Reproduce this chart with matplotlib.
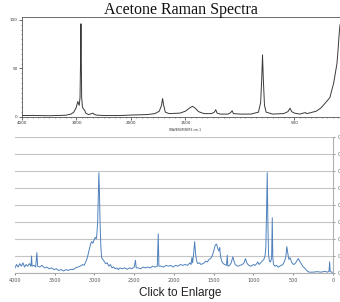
import numpy as np
import matplotlib
matplotlib.use("Agg")
import matplotlib.pyplot as plt
from matplotlib.ticker import FixedLocator, NullFormatter

# --- top spectrum (instrument print-out) ---
top_wn = [4000, 3800, 3500, 3200, 3100, 3050, 3010, 2990, 2975, 2965, 2950, 2935,
          2925, 2918, 2912, 2905, 2890, 2870, 2850, 2830, 2780, 2720, 2700, 2680,
          2640, 2500, 2200, 2000, 1850, 1780, 1740, 1720, 1710, 1700, 1685, 1650,
          1550, 1500, 1460, 1435, 1410, 1380, 1330, 1260, 1235, 1222, 1210, 1180,
          1110, 1085, 1072, 1060, 1000, 900, 830, 810, 800, 793, 786, 775, 760,
          700, 600, 560, 540, 525, 500, 450, 420, 400, 385, 350, 300, 260, 220,
          175, 140, 110, 100, 90, 82]
top_int = [1.5, 1.6, 1.3, 1.8, 3, 5, 9, 13, 16, 14, 12, 20,
           60, 96, 60, 20, 10, 8, 7, 4, 2.5, 3.5, 4, 3,
           2, 1.5, 1.5, 2, 2.5, 3.5, 6, 12, 19, 12, 5, 3.5,
           4, 6, 9.5, 11, 9, 5.5, 3.5, 3.5, 5, 7.5, 4, 3,
           3, 4.5, 6.5, 3.5, 3, 3, 5, 15, 40, 64, 40, 12, 5,
           3, 3.5, 5.5, 9, 5.5, 4, 3, 4, 4.5, 3.5, 4.5, 6, 9, 14,
           20, 35, 55, 69, 85, 95]
top_yticks = [0, 50, 100]
top_xticks = [4000, 3000, 2000, 1500, 500]

# --- bottom spectrum (spreadsheet plot) ---
bot_wn = [4000, 3980, 3960, 3940, 3920, 3900, 3880, 3860, 3840, 3820, 3800, 3792,
          3785, 3760, 3740, 3725, 3715, 3690, 3660, 3630, 3600, 3570, 3540, 3510,
          3480, 3450, 3420, 3390, 3360, 3330, 3300, 3270, 3240, 3210, 3180, 3150,
          3130, 3110, 3090, 3070, 3050, 3035, 3020, 3005, 2990, 2978, 2970, 2960,
          2952, 2945, 2938, 2930, 2920, 2910, 2895, 2880, 2860, 2840, 2820, 2800,
          2780, 2760, 2740, 2720, 2700, 2680, 2650, 2620, 2590, 2560, 2530, 2500,
          2485, 2475, 2450, 2420, 2390, 2360, 2330, 2300, 2270, 2240, 2210, 2198,
          2190, 2160, 2130, 2100, 2070, 2040, 2010, 1980, 1950, 1920, 1890, 1860,
          1830, 1800, 1785, 1775, 1765, 1752, 1740, 1730, 1715, 1700, 1680, 1660,
          1640, 1620, 1600, 1580, 1560, 1540, 1520, 1500, 1480, 1465, 1450, 1435,
          1425, 1415, 1400, 1380, 1360, 1340, 1330, 1322, 1300, 1280, 1260, 1245,
          1230, 1200, 1170, 1140, 1120, 1100, 1085, 1060, 1030, 1000, 980, 960,
          945, 930, 910, 890, 870, 855, 845, 836, 827, 819, 811, 800, 785, 772,
          764, 757, 748, 730, 710, 690, 670, 650, 630, 610, 595, 580, 570, 555,
          540, 525, 510, 490, 470, 450, 435, 420, 400, 380, 360, 340, 320, 300,
          250, 200, 150, 100, 70, 50, 42, 36, 20, 0]
bot_int = [0.3, 0.5, 0.35, 0.55, 0.4, 0.6, 0.35, 0.5, 0.4, 0.55, 0.4, 1.0,
           0.4, 0.45, 0.35, 1.2, 0.4, 0.35, 0.45, 0.3, 0.35, 0.25, 0.3, 0.2,
           0.25, 0.15, 0.2, 0.12, 0.2, 0.15, 0.22, 0.2, 0.3, 0.35, 0.4, 0.5,
           0.45, 0.65, 0.9, 1.3, 1.7, 1.85, 1.75, 1.95, 2.1, 2.0, 2.3, 3.0,
           4.5, 5.9, 4.8, 3.0, 1.5, 0.9, 0.8, 0.7, 0.55, 0.6, 0.4, 0.5,
           0.3, 0.35, 0.25, 0.3, 0.2, 0.3, 0.25, 0.3, 0.22, 0.3, 0.25, 0.35,
           0.75, 0.3, 0.3, 0.25, 0.35, 0.3, 0.35, 0.3, 0.4, 0.35, 0.4, 2.3,
           0.4, 0.4, 0.35, 0.45, 0.4, 0.45, 0.35, 0.45, 0.4, 0.5, 0.45, 0.5,
           0.45, 0.6, 0.5, 0.9, 0.6, 1.2, 1.85, 1.2, 0.7, 0.55, 0.6, 0.5,
           0.55, 0.6, 0.7, 0.65, 0.8, 0.85, 1.0, 1.3, 1.65, 1.7, 1.45, 1.3,
           1.5, 1.0, 0.7, 0.55, 0.5, 0.45, 1.05, 0.4, 0.45, 0.6, 0.95, 0.7,
           0.5, 0.4, 0.45, 0.5, 0.6, 0.85, 0.6, 0.45, 0.4, 0.5, 0.45, 0.55,
           0.65, 0.5, 0.6, 0.7, 0.8, 1.0, 1.5, 3.5, 5.9, 3.0, 1.1, 0.7, 0.65, 0.9,
           3.25, 0.9, 0.5, 0.4, 0.45, 0.35, 0.4, 0.45, 0.5, 0.7, 0.9, 1.55, 1.2, 0.8,
           0.9, 0.7, 0.55, 0.5, 0.6, 0.75, 0.85, 0.7, 0.55, 0.4, 0.3, 0.2, 0.1, 0.05,
           0.05, 0.08, 0.05, 0.1, 0.05, 0.1, 0.66, 0.1, 0.05, 0.05]
bot_xticks = [4000, 3500, 3000, 2500, 2000, 1500, 1000, 500, 0]
bot_grid = [0, 1, 2, 3, 4, 5, 6, 7, 8]
# right-hand labels are cut by the image edge, only the first digit shows
bot_ylabels = ["0"] * len(bot_grid)


# x axis of the print-out is expanded 2x below 2000 cm-1
def fwd(w):
    w = np.asarray(w, dtype=float)
    return np.where(w >= 2000, w, 2 * w - 2000)


def inv(u):
    u = np.asarray(u, dtype=float)
    return np.where(u >= 2000, u, (u + 2000) / 2)


fig = plt.figure(figsize=(3.4, 3.02), dpi=100)

fig.text(0.532, 0.967, "Acetone Raman Spectra", ha="center", va="center",
         family="Liberation Serif", fontsize=11.5, color="#111111")

# === top panel ===
ax1 = fig.add_axes([0.0647, 0.6126, 0.9353, 0.3311])
ax1.set_xscale("function", functions=(fwd, inv))
ax1.plot(top_wn, top_int, color="#3a3a3a", lw=0.7)
ax1.set_xlim(4000, 82)
ax1.set_ylim(0, 103)
ax1.set_xticks(top_xticks)
ax1.set_xticklabels([str(t) for t in top_xticks])
ax1.xaxis.set_minor_locator(FixedLocator(list(range(4000, 2000, -100)) + list(range(2000, 80, -50))))
ax1.set_yticks(top_yticks)
ax1.yaxis.set_minor_locator(FixedLocator(list(range(0, 104, 5))))
ax1.xaxis.set_minor_formatter(NullFormatter())
ax1.tick_params(axis="both", which="major", labelsize=3, length=2, width=0.5, pad=1, colors="#333333")
ax1.tick_params(axis="both", which="minor", length=1, width=0.4, colors="#555555")
for s in ["left", "bottom", "top"]:
    ax1.spines[s].set_linewidth(0.6)
    ax1.spines[s].set_color("#555555")
ax1.spines["right"].set_visible(False)
ax1.text(1500, -11, "WAVENUMBERS cm-1", ha="center", va="top", fontsize=2.2, color="#333333",
         clip_on=False)

# === bottom panel ===
ax2 = fig.add_axes([0.0441, 0.096, 0.9353, 0.4503])
ax2.plot(bot_wn, bot_int, color="#4F81BD", lw=0.7)
ax2.set_xlim(4000, 0)
ax2.set_ylim(0, 8)
ax2.set_xticks(bot_xticks)
ax2.set_xticklabels([str(t) for t in bot_xticks])
ax2.set_yticks(bot_grid)
ax2.set_yticklabels(bot_ylabels)
ax2.yaxis.tick_right()
ax2.grid(axis="y", color="#c4c4c4", lw=0.8)
ax2.set_axisbelow(True)
ax2.tick_params(axis="x", labelsize=3.5, length=1.5, width=0.5, pad=2, colors="#555555")
ax2.tick_params(axis="y", labelsize=3.5, length=1.5, width=0.5, pad=1.5, colors="#666666")
for s in ["left", "top"]:
    ax2.spines[s].set_visible(False)
ax2.spines["bottom"].set_color("#b0b0b0")
ax2.spines["right"].set_color("#b0b0b0")
ax2.spines["bottom"].set_linewidth(0.8)
ax2.spines["right"].set_linewidth(0.8)

fig.text(0.53, 0.03, "Click to Enlarge", ha="center", va="center",
         family="Liberation Sans", fontsize=8.5, color="#222222")

fig.savefig("out.png", dpi=100)
